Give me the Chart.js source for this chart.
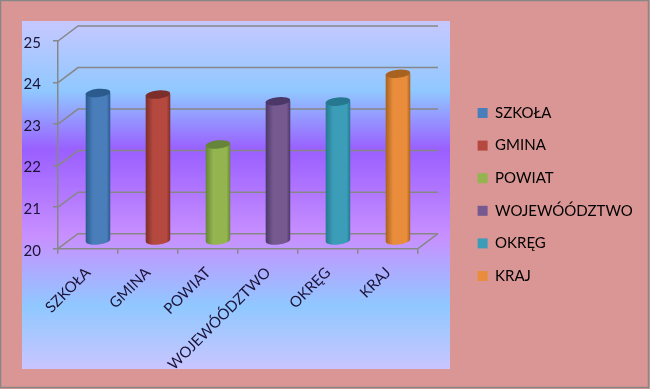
<!DOCTYPE html>
<html>
<head>
<meta charset="utf-8">
<style>
  html, body { margin: 0; padding: 0; background: #da9694; overflow: hidden; }
  canvas { display: block; }
</style>
<script src="https://cdn.jsdelivr.net/npm/chart.js@4"></script>
</head>
<body>
<canvas id="chart" width="650" height="389"></canvas>
<script>
const categories = ['SZKOŁA', 'GMINA', 'POWIAT', 'WOJEWÓÓDZTWO', 'OKRĘG', 'KRAJ'];
const values = [23.57, 23.53, 22.33, 23.37, 23.36, 24.03];
const colors = ['#4a7ebb', '#b5483f', '#93b44f', '#75598f', '#3c9db8', '#e98d3c'];
const darkColors = ['#2b5a8c', '#7c2e2a', '#66843a', '#4b3868', '#25788f', '#a8621f'];
const textColor = '#1c1338';
const axisColor = '#878787';
const depthX = 20, depthY = 15;

const scene = {
  id: 'scene',
  beforeDraw(chart) {
    const ctx = chart.ctx;
    ctx.save();
    ctx.fillStyle = '#da9694';
    ctx.fillRect(0, 0, 650, 389);
    const g = ctx.createLinearGradient(0, 21, 0, 369);
    g.addColorStop(0, '#c6c8ff');
    g.addColorStop(0.2, '#90c8ff');
    g.addColorStop(0.37, '#9a5fff');
    g.addColorStop(0.62, '#c890ff');
    g.addColorStop(0.82, '#90c8ff');
    g.addColorStop(1, '#cac5ff');
    ctx.fillStyle = g;
    ctx.fillRect(22, 21, 428, 348);

    // back wall + floor lines
    const y = chart.scales.y, a = chart.chartArea;
    ctx.strokeStyle = axisColor;
    ctx.lineWidth = 1.5;
    y.ticks.forEach(t => {
      const py = y.getPixelForValue(t.value);
      ctx.beginPath();
      ctx.moveTo(a.left, py);
      ctx.lineTo(a.left + depthX, py - depthY);
      ctx.lineTo(a.right + depthX, py - depthY);
      ctx.stroke();
    });
    ctx.beginPath();
    ctx.moveTo(a.right, a.bottom);
    ctx.lineTo(a.right + depthX, a.bottom - depthY);
    ctx.stroke();
    ctx.restore();
  },
  // cylinders instead of flat bars
  beforeDatasetDraw(chart, args) {
    const ctx = chart.ctx;
    args.meta.data.forEach((bar, i) => {
      const cx = bar.x + depthX / 2;
      const top = bar.y - depthY / 2;
      const bottom = bar.base - depthY / 2;
      const rx = bar.width / 2, ry = 4.1, tilt = -0.1;
      const g = ctx.createLinearGradient(cx - rx, 0, cx + rx, 0);
      g.addColorStop(0, darkColors[i]);
      g.addColorStop(0.3, colors[i]);
      g.addColorStop(0.85, colors[i]);
      g.addColorStop(1, darkColors[i]);
      ctx.save();
      ctx.fillStyle = g;
      ctx.beginPath();
      ctx.moveTo(cx - rx, top + 0.4);
      ctx.lineTo(cx - rx, bottom + 0.4);
      ctx.ellipse(cx, bottom, rx, ry, tilt, Math.PI, 0, true);
      ctx.lineTo(cx + rx, top - 0.4);
      ctx.closePath();
      ctx.fill();
      ctx.fillStyle = darkColors[i];
      ctx.beginPath();
      ctx.ellipse(cx, top, rx, ry, tilt, 0, Math.PI * 2);
      ctx.fill();
      ctx.restore();
    });
    return false;
  },
  afterLayout(chart) {
    const l = chart.legend;
    l.left = 460;
    l.right = 650;
    l.top = 0;
    l.bottom = 389;
  },
  afterDraw(chart) {
    const ctx = chart.ctx;
    ctx.save();
    ctx.fillStyle = '#da9694';
    ctx.fillRect(0, 369, 650, 20);
    ctx.strokeStyle = axisColor;
    ctx.lineWidth = 1.5;
    ctx.strokeRect(0.5, 0.5, 648, 387);
    ctx.restore();
  }
};

new Chart(document.getElementById('chart'), {
  type: 'bar',
  data: {
    labels: categories,
    datasets: [{ data: values, base: 20, backgroundColor: colors, barPercentage: 0.41, categoryPercentage: 1 }]
  },
  plugins: [scene],
  options: {
    responsive: false,
    animation: false,
    layout: { padding: { top: 41, left: 0, right: 92.7, bottom: 0 } },
    plugins: {
      tooltip: { enabled: false },
      legend: {
        position: 'right',
        onClick: null,
        labels: {
          boxWidth: 10,
          boxHeight: 10,
          padding: 17.6,
          color: textColor,
          font: { family: 'Lato', size: 15 },
          generateLabels: () => categories.map((c, i) => ({
            text: c, fillStyle: colors[i], strokeStyle: colors[i], lineWidth: 0, index: i
          }))
        }
      }
    },
    scales: {
      x: {
        afterFit(s) { s.height = 140.3; },
        grid: { drawOnChartArea: false, color: axisColor, tickLength: 5, tickColor: axisColor, lineWidth: 1.5 },
        border: { color: axisColor, width: 1.5 },
        ticks: { color: textColor, font: { family: 'Lato', size: 15 }, minRotation: 45, maxRotation: 45, padding: 10, autoSkip: false }
      },
      y: {
        min: 20,
        max: 25,
        afterFit(s) { s.width = 58; },
        grid: { drawOnChartArea: false, color: axisColor, tickLength: 5, tickColor: axisColor, lineWidth: 1.5 },
        border: { color: axisColor, width: 1.5 },
        ticks: { stepSize: 1, color: textColor, font: { family: 'Lato', size: 15 }, padding: 12, labelOffset: 2 }
      }
    }
  }
});
</script>
</body>
</html>
